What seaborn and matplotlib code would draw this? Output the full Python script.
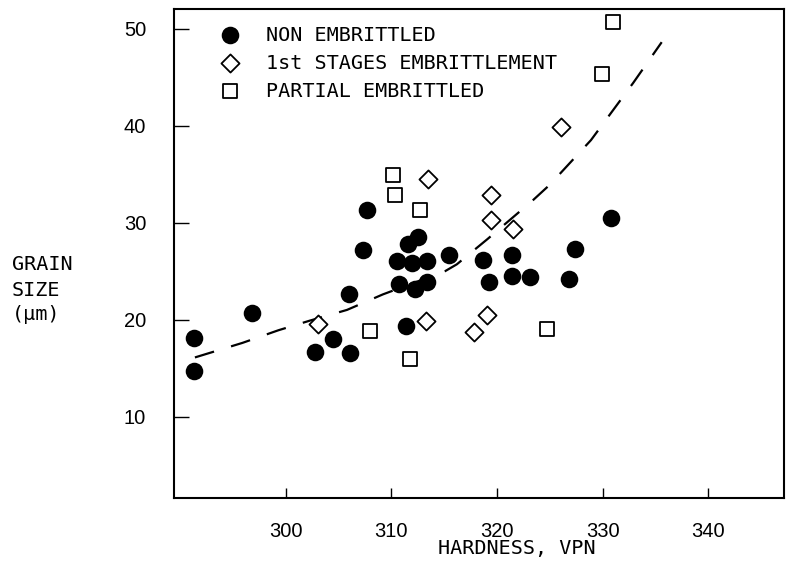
import matplotlib
matplotlib.use("Agg")
import matplotlib.pyplot as plt
import seaborn as sns

# ---- data ----
non_x = [291.3, 291.3, 296.8, 302.8, 304.5, 306.0, 306.1, 307.3, 307.7, 310.5,
         310.7, 311.4, 311.6, 312.0, 312.2, 312.5, 313.4, 313.4, 315.5, 318.7,
         319.2, 321.4, 321.4, 323.1, 326.8, 327.4, 330.8]
non_y = [14.7, 18.1, 20.7, 16.7, 18.0, 22.6, 16.6, 27.2, 31.3, 26.0,
         23.7, 19.3, 27.8, 25.8, 23.2, 28.5, 26.0, 23.9, 26.7, 26.1,
         23.9, 24.5, 26.7, 24.4, 24.2, 27.3, 30.5]

first_x = [303.1, 313.3, 313.5, 319.4, 319.4, 321.5, 319.1, 317.8, 326.1]
first_y = [19.5, 19.9, 34.5, 32.8, 30.3, 29.3, 20.5, 18.7, 39.9]

part_x = [310.2, 310.3, 312.7, 308.0, 311.8, 324.7, 329.9, 331.0]
part_y = [34.9, 32.8, 31.3, 18.8, 15.9, 19.0, 45.3, 50.7]

trend_x = [291.4, 295.9, 299.3, 302.3, 305.8, 309.2, 315.1, 316.2, 319.1,
           323.4, 325.0, 328.9, 332.9, 335.6]
trend_y = [16.1, 17.6, 18.9, 19.9, 21.0, 22.6, 25.0, 25.7, 28.3,
           32.3, 33.9, 38.5, 44.4, 48.6]

labels = ["NON EMBRITTLED", "1st STAGES EMBRITTLEMENT", "PARTIAL EMBRITTLED"]
x_ticks = [300, 310, 320, 330, 340]
y_ticks = [10, 20, 30, 40, 50]

# ---- figure ----
sns.set_theme(style="white")
plt.rcParams["font.family"] = ["Liberation Sans", "DejaVu Sans"]
mono = "DejaVu Sans Mono"

W, H = 787, 567
fig = plt.figure(figsize=(W / 100, H / 100), dpi=100)
L, R, T, B = 174, 784, 9, 498
ax = fig.add_axes([L / W, 1 - B / H, (R - L) / W, (B - T) / H])

sns.lineplot(x=trend_x, y=trend_y, ax=ax, color="black", linewidth=1.6,
             sort=False, estimator=None, zorder=1)
ax.lines[-1].set_dashes([9, 8])

sns.scatterplot(x=non_x, y=non_y, ax=ax, marker="o", s=160, color="black",
                edgecolor="black", linewidth=0, label=labels[0], zorder=3)
sns.scatterplot(x=first_x, y=first_y, ax=ax, marker="D", s=85, color="white",
                edgecolor="black", linewidth=1.3, label=labels[1], zorder=3)
sns.scatterplot(x=part_x, y=part_y, ax=ax, marker="s", s=105, color="white",
                edgecolor="black", linewidth=1.3, label=labels[2], zorder=3)

ax.set_xlim(289.42, 347.18)
ax.set_ylim(1.61, 52.02)
ax.set_xticks(x_ticks)
ax.set_yticks(y_ticks)
ax.set_xticklabels([str(v) for v in x_ticks], fontsize=14.5)
ax.set_yticklabels([str(v) for v in y_ticks], fontsize=14.5)
ax.tick_params(axis="x", direction="in", length=7, width=1.0, pad=17,
               colors="black", bottom=True, top=False)
ax.tick_params(axis="y", direction="in", length=11, width=1.0, pad=20,
               colors="black", left=True, right=False)
for sp in ax.spines.values():
    sp.set_color("black")
    sp.set_linewidth(1.5)
    sp.set_visible(True)

ax.set_xlabel("HARDNESS, VPN", fontsize=14.5, family=mono, color="black")
ax.xaxis.set_label_coords((517 - L) / (R - L), -(539 - B) / (B - T))
ax.set_ylabel("")

ylab_x = 12 / W
for txt, yy in [("GRAIN", 265), ("SIZE", 290), ("(μm)", 315)]:
    fig.text(ylab_x, 1 - yy / H, txt, fontsize=14.5, family=mono,
             va="center", ha="left", color="black")

leg = ax.legend(loc="upper left", bbox_to_anchor=((220 - L) / (R - L), 0.966),
                frameon=False, prop={"family": mono, "size": 14.5},
                handlelength=1.0, handletextpad=1.3, labelspacing=0.45,
                borderaxespad=0, borderpad=0)
for t in leg.get_texts():
    t.set_color("black")

fig.savefig("out.png", dpi=100)
